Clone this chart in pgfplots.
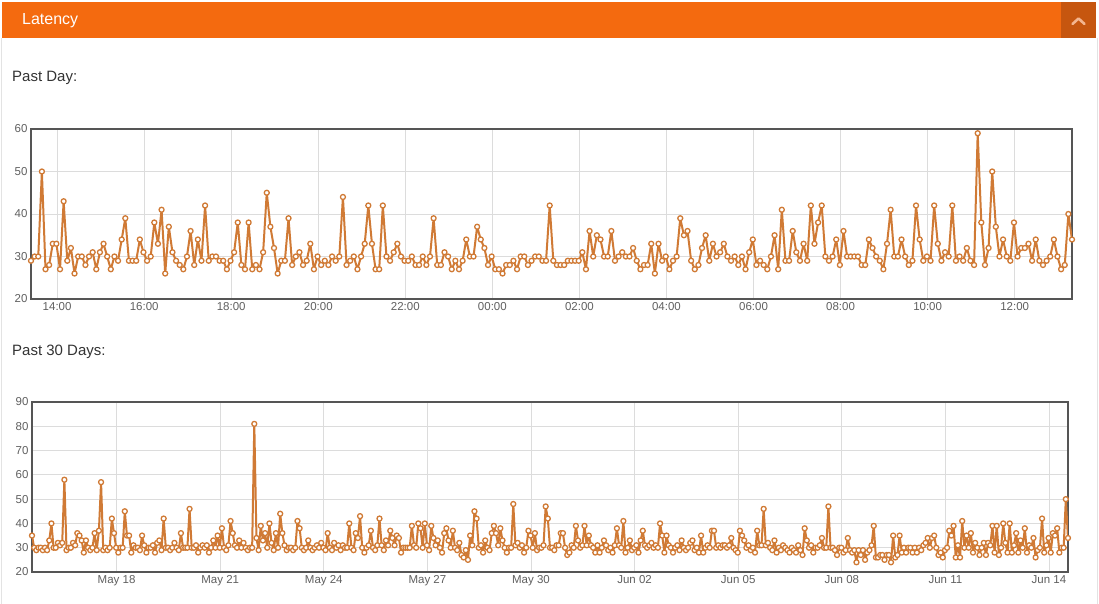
\documentclass[border=0pt]{standalone}
\usepackage{pgfplots}
\usepackage{pgfplotstable}
\pgfplotsset{compat=1.18}
\usepackage{fontspec}
\setmainfont{Liberation Sans}

\definecolor{hdr}{HTML}{F46A0F}
\definecolor{hdrdark}{HTML}{C6560F}
\definecolor{chev}{HTML}{F3B58F}
\definecolor{linec}{HTML}{D07A35}
\definecolor{gridc}{HTML}{DCDCDC}
\definecolor{framec}{HTML}{555555}
\definecolor{tickc}{HTML}{606060}
\definecolor{labc}{HTML}{333333}
\definecolor{panelc}{HTML}{E3E3E3}

% past day: one value every 5 minutes
\pgfplotstableread[row sep=\\, header=false]{
29\\30\\30\\50\\27\\28\\33\\33\\27\\43\\
29\\32\\26\\30\\30\\28\\30\\31\\27\\31\\
33\\30\\27\\30\\29\\34\\39\\29\\29\\29\\
34\\31\\29\\30\\38\\33\\41\\26\\37\\31\\
29\\28\\27\\30\\36\\28\\34\\29\\42\\29\\
30\\30\\29\\29\\27\\29\\31\\38\\28\\27\\
38\\27\\28\\27\\31\\45\\37\\32\\26\\29\\
29\\39\\28\\30\\31\\28\\29\\33\\27\\30\\
28\\29\\28\\30\\29\\30\\44\\28\\29\\30\\
27\\30\\33\\42\\
33\\27\\27\\42\\30\\29\\31\\33\\30\\29\\
29\\30\\28\\28\\30\\28\\30\\39\\28\\28\\
31\\30\\27\\29\\27\\29\\34\\30\\30\\37\\
34\\32\\28\\30\\27\\27\\26\\28\\28\\29\\
27\\30\\30\\28\\29\\30\\30\\29\\29\\42\\
29\\28\\28\\28\\29\\29\\29\\29\\31\\27\\
36\\30\\35\\34\\30\\30\\36\\29\\30\\31\\
30\\30\\32\\29\\27\\28\\28\\33\\26\\33\\
29\\30\\27\\29\\30\\39\\35\\36\\29\\27\\
28\\32\\35\\29\\33\\30\\31\\33\\30\\
29\\30\\28\\30\\27\\31\\34\\28\\29\\28\\
27\\30\\35\\27\\41\\29\\29\\36\\31\\29\\
33\\29\\42\\33\\38\\42\\30\\29\\30\\34\\
28\\36\\30\\30\\30\\30\\28\\28\\34\\32\\
30\\29\\27\\33\\41\\30\\30\\34\\30\\28\\
29\\42\\34\\29\\30\\29\\42\\33\\29\\31\\
30\\42\\29\\30\\29\\32\\29\\28\\59\\38\\
28\\32\\50\\37\\30\\34\\30\\29\\38\\30\\
32\\32\\33\\29\\34\\29\\28\\29\\30\\34\\
30\\27\\28\\40\\34\\
}\dayTable

% past 30 days: one value every 90 minutes
\pgfplotstableread[row sep=\\, header=false]{
35\\30\\29\\30\\30\\29\\30\\29\\33\\40\\
30\\30\\32\\31\\32\\58\\29\\30\\30\\32\\
31\\36\\35\\33\\28\\33\\30\\29\\30\\36\\
29\\37\\57\\29\\30\\29\\30\\42\\36\\30\\
28\\30\\30\\45\\35\\35\\28\\31\\30\\30\\
29\\35\\31\\28\\30\\30\\31\\28\\32\\33\\
29\\42\\30\\30\\29\\30\\32\\30\\29\\36\\
30\\30\\30\\46\\30\\30\\31\\28\\30\\31\\
30\\31\\28\\30\\33\\30\\35\\30\\38\\30\\
29\\31\\41\\36\\31\\30\\33\\30\\32\\30\\
29\\30\\30\\81\\34\\29\\39\\33\\36\\30\\
40\\32\\29\\36\\30\\44\\36\\31\\29\\30\\
30\\29\\30\\41\\38\\30\\29\\30\\33\\30\\
29\\30\\31\\30\\32\\30\\29\\36\\30\\29\\
32\\30\\31\\29\\31\\30\\30\\40\\30\\29\\
36\\34\\43\\30\\28\\30\\31\\37\\30\\29\\
31\\42\\31\\29\\33\\31\\37\\34\\31\\35\\
34\\28\\30\\30\\30\\30\\39\\31\\30\\40\\
38\\30\\40\\31\\29\\39\\34\\31\\33\\30\\
28\\36\\38\\33\\30\\37\\30\\29\\32\\27\\
26\\29\\25\\35\\31\\45\\42\\30\\31\\28\\
33\\30\\29\\36\\39\\36\\31\\38\\33\\30\\
28\\30\\30\\48\\31\\32\\30\\31\\28\\30\\
37\\35\\30\\36\\29\\30\\30\\31\\47\\42\\
30\\30\\29\\31\\31\\36\\36\\30\\27\\28\\
31\\30\\39\\33\\30\\31\\39\\31\\35\\31\\
30\\28\\31\\28\\30\\33\\31\\29\\30\\28\\
31\\38\\31\\30\\41\\28\\30\\33\\29\\30\\
31\\28\\33\\37\\31\\30\\31\\32\\30\\31\\
30\\40\\35\\28\\35\\31\\30\\28\\30\\31\\
29\\33\\30\\29\\30\\32\\33\\29\\30\\28\\
35\\28\\30\\31\\30\\37\\37\\30\\31\\30\\
31\\31\\30\\31\\34\\30\\29\\28\\37\\35\\
33\\30\\31\\29\\30\\28\\37\\31\\31\\46\\
31\\32\\30\\29\\33\\28\\30\\29\\31\\30\\
29\\28\\30\\29\\28\\31\\29\\27\\38\\33\\
30\\31\\28\\30\\30\\31\\34\\30\\30\\47\\
30\\30\\29\\27\\30\\30\\28\\29\\34\\29\\
28\\29\\24\\29\\27\\29\\25\\28\\29\\31\\
39\\26\\26\\27\\27\\25\\27\\27\\24\\35\\
26\\27\\35\\28\\30\\28\\30\\30\\28\\30\\
28\\30\\29\\31\\32\\34\\30\\34\\35\\30\\
27\\28\\26\\29\\30\\37\\35\\39\\26\\31\\
26\\41\\30\\35\\30\\36\\28\\32\\30\\27\\
30\\32\\27\\32\\31\\39\\28\\39\\27\\30\\
40\\32\\28\\40\\28\\31\\36\\28\\33\\30\\
38\\28\\31\\30\\34\\26\\29\\30\\42\\28\\
31\\34\\28\\36\\35\\38\\28\\30\\30\\50\\
34\\
}\monthTable

\pgfplotsset{
  latency/.style={
    scale only axis,
    anchor=south west,
    xmajorgrids, ymajorgrids,
    grid style={draw=gridc, line width=0.8pt},
    axis line style={draw=framec, line width=2pt},
    major tick length=0pt,
    tick label style={font=\fontsize{11.5}{13}\selectfont, text=tickc},
    /pgf/number format/assume math mode=true,
  },
  latline/.style={color=linec, line width=2pt, line join=round, line cap=round,
    mark=*, mark size=2.5pt,
    mark options={fill=white, draw=linec, line width=1.3pt}},
}

\begin{document}
\begin{tikzpicture}[x=1pt, y=1pt]
\useasboundingbox (0,0) rectangle (1099,-604);
\fill[white] (0,0) rectangle (1099,-604);
% panel
\draw[panelc, line width=1.2pt] (1.2,-38) -- (1.2,-604);
\draw[panelc, line width=1.6pt] (1097.5,-38) -- (1097.5,-604);
\fill[hdr] (2,-2) rectangle (1096,-38);
\fill[hdrdark] (1061,-2) rectangle (1096,-38);
\draw[chev, line width=2.6pt, line cap=round, line join=round] (1072.5,-24) -- (1078.5,-18.5) -- (1084.5,-24);
\node[anchor=base west, inner sep=0pt, text=white, font=\fontsize{16}{19}\selectfont] at (22,-25) {Latency};
\node[anchor=base west, inner sep=0pt, text=labc, font=\fontsize{15}{18}\selectfont] at (12,-82) {Past Day:};
\node[anchor=base west, inner sep=0pt, text=labc, font=\fontsize{15}{18}\selectfont] at (12,-355) {Past 30 Days:};

\begin{axis}[latency,
  at={(31pt,-299pt)}, width=1041pt, height=170pt,
  xmin=13.4, xmax=37.3167, ymin=20, ymax=60,
  ytick={20,30,40,50,60},
  xtick={14,16,18,20,22,24,26,28,30,32,34,36},
  xticklabels={14:00,16:00,18:00,20:00,22:00,00:00,02:00,04:00,06:00,08:00,10:00,12:00},
]
\addplot[latline] table[x expr={13.4+\coordindex/12}, y index=0] {\dayTable};
\end{axis}

\begin{axis}[latency,
  at={(32pt,-572pt)}, width=1036pt, height=170pt,
  xmin=15.55, xmax=45.55, ymin=20, ymax=90,
  ytick={20,30,40,50,60,70,80,90},
  xtick={18,21,24,27,30,33,36,39,42,45},
  xticklabels={May 18,May 21,May 24,May 27,May 30,Jun 02,Jun 05,Jun 08,Jun 11,Jun 14},
]
\addplot[latline] table[x expr={15.55+\coordindex/16}, y index=0] {\monthTable};
\end{axis}
\end{tikzpicture}
\end{document}
